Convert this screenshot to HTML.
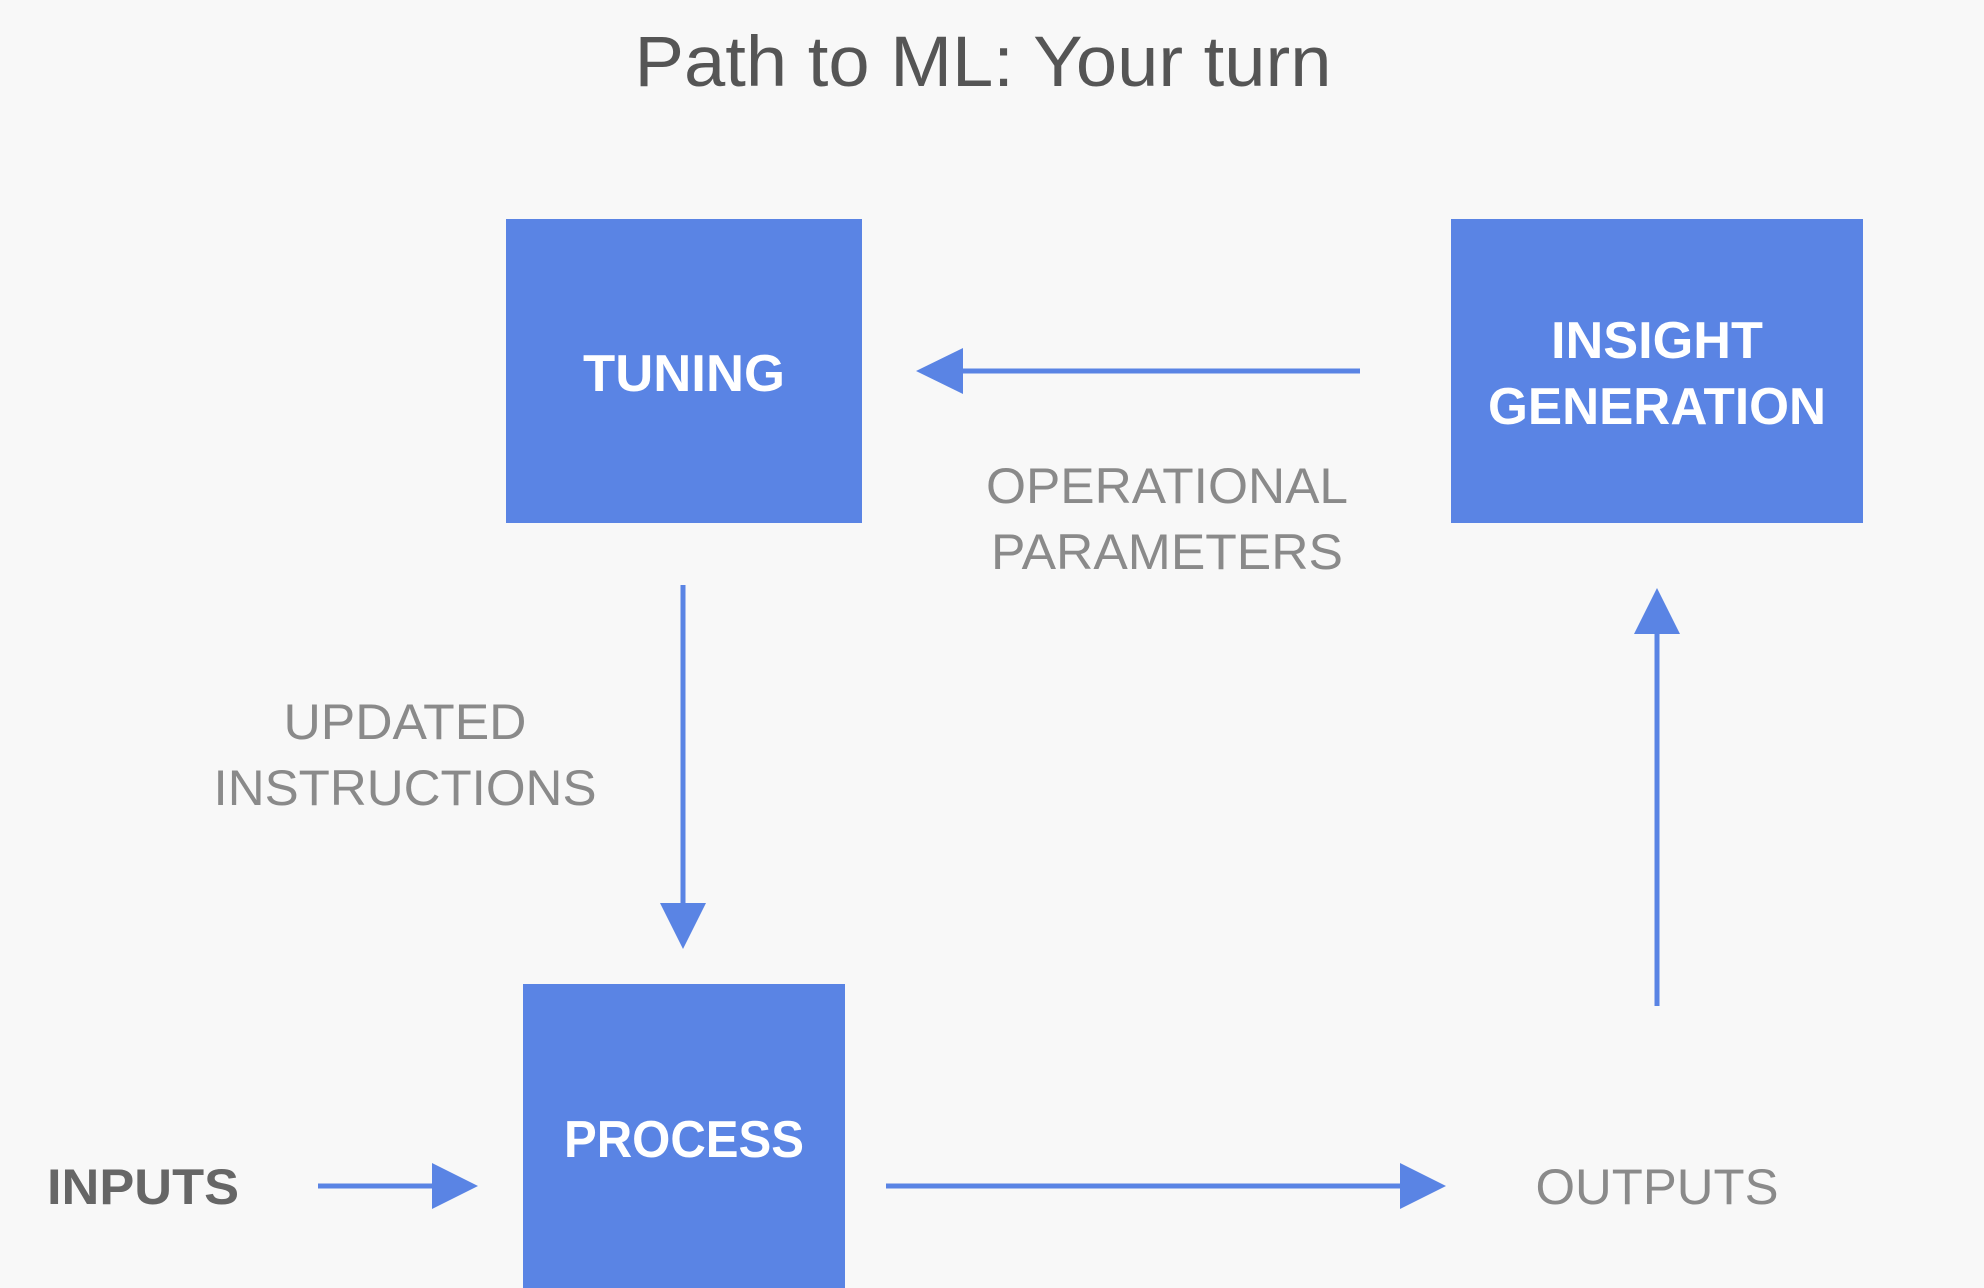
<!DOCTYPE html>
<html><head><meta charset="utf-8"><style>
html,body{margin:0;padding:0;background:#f8f8f8;}
svg{display:block;}
</style></head><body>
<svg width="1984" height="1288" viewBox="0 0 1984 1288" xmlns="http://www.w3.org/2000/svg">
<rect width="1984" height="1288" fill="#f8f8f8"/>
<text x="983" y="86" text-anchor="middle" font-family="Liberation Sans, sans-serif" font-size="71" fill="#555" textLength="697" lengthAdjust="spacingAndGlyphs">Path to ML: Your turn</text>
<g fill="#5a84e4">
<rect x="506" y="219" width="356" height="304"/>
<rect x="1451" y="219" width="412" height="304"/>
<rect x="523" y="984" width="322" height="304"/>
</g>
<g font-family="Liberation Sans, sans-serif" font-weight="bold" fill="#fff" font-size="52" text-anchor="middle">
<text x="684" y="391" textLength="202" lengthAdjust="spacingAndGlyphs">TUNING</text>
<text x="1657" y="358" textLength="212" lengthAdjust="spacingAndGlyphs">INSIGHT</text>
<text x="1657" y="424" textLength="338" lengthAdjust="spacingAndGlyphs">GENERATION</text>
<text x="684" y="1157" textLength="240" lengthAdjust="spacingAndGlyphs">PROCESS</text>
</g>
<g stroke="#5a84e4" stroke-width="5" fill="none">
<line x1="1360" y1="371" x2="950" y2="371"/>
<line x1="683" y1="585" x2="683" y2="915"/>
<line x1="1657" y1="1006" x2="1657" y2="622"/>
<line x1="318" y1="1186" x2="445" y2="1186"/>
<line x1="886" y1="1186" x2="1410" y2="1186"/>
</g>
<g fill="#5a84e4">
<polygon points="916,371 963,348 963,394"/>
<polygon points="683,949 660,903 706,903"/>
<polygon points="1657,588 1634,634 1680,634"/>
<polygon points="478,1186 432,1163 432,1209"/>
<polygon points="1446,1186 1400,1163 1400,1209"/>
</g>
<g font-family="Liberation Sans, sans-serif" font-size="50" fill="#8a8a8a" text-anchor="middle">
<text x="1167" y="503" textLength="362" lengthAdjust="spacingAndGlyphs">OPERATIONAL</text>
<text x="1167" y="569" textLength="352" lengthAdjust="spacingAndGlyphs">PARAMETERS</text>
<text x="405" y="739" textLength="243" lengthAdjust="spacingAndGlyphs">UPDATED</text>
<text x="405" y="805" textLength="383" lengthAdjust="spacingAndGlyphs">INSTRUCTIONS</text>
<text x="1657" y="1204" textLength="243" lengthAdjust="spacingAndGlyphs">OUTPUTS</text>
</g>
<text x="47" y="1204" font-family="Liberation Sans, sans-serif" font-weight="bold" font-size="50" fill="#666" textLength="192" lengthAdjust="spacingAndGlyphs">INPUTS</text>
</svg>
</body></html>
